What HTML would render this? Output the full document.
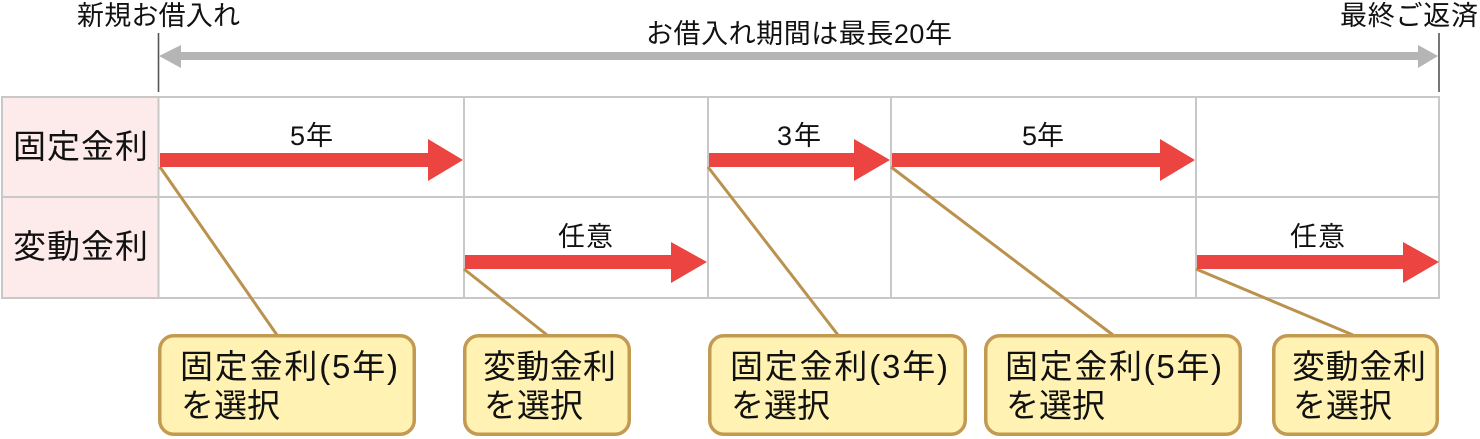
<!DOCTYPE html>
<html>
<head>
<meta charset="utf-8">
<style>
html,body{margin:0;padding:0;background:#fff;}
svg{display:block;}
text{font-family:"Liberation Sans","Noto Sans CJK JP",sans-serif;fill:#111;}
</style>
</head>
<body>
<svg width="1480" height="439" viewBox="0 0 1480 439" xmlns="http://www.w3.org/2000/svg">
  <!-- top labels -->
  <text x="77" y="25" font-size="27" textLength="163" lengthAdjust="spacing">新規お借入れ</text>
  <text x="1340" y="25" font-size="27" textLength="138" lengthAdjust="spacing">最終ご返済</text>
  <text x="646" y="43" font-size="27" textLength="306" lengthAdjust="spacing">お借入れ期間は最長20年</text>

  <!-- vertical markers -->
  <line x1="158.5" y1="33" x2="158.5" y2="92" stroke="#555" stroke-width="1.6"/>
  <line x1="1439" y1="33" x2="1439" y2="92" stroke="#555" stroke-width="1.6"/>

  <!-- gray double arrow -->
  <rect x="178" y="52" width="1243" height="8" fill="#B5B5B5"/>
  <polygon points="159,56 181,45 181,68" fill="#B5B5B5"/>
  <polygon points="1438,56 1418,45 1418,68" fill="#B5B5B5"/>

  <!-- table header fill -->
  <rect x="2" y="97" width="156" height="201" fill="#FDEBEC"/>

  <!-- table grid -->
  <g stroke="#C8C8C8" stroke-width="2" fill="none">
    <line x1="1" y1="97" x2="1439" y2="97"/>
    <line x1="1" y1="197" x2="1439" y2="197"/>
    <line x1="1" y1="298" x2="1440" y2="298"/>
    <line x1="2" y1="96" x2="2" y2="299"/>
    <line x1="158.5" y1="96" x2="158.5" y2="299"/>
    <line x1="464" y1="96" x2="464" y2="299"/>
    <line x1="708" y1="96" x2="708" y2="299"/>
    <line x1="891" y1="96" x2="891" y2="299"/>
    <line x1="1196" y1="96" x2="1196" y2="299"/>
    <line x1="1439" y1="96" x2="1439" y2="299"/>
  </g>

  <!-- header labels -->
  <text x="13" y="158" font-size="33" textLength="135" lengthAdjust="spacing">固定金利</text>
  <text x="13" y="258" font-size="33" textLength="135" lengthAdjust="spacing">変動金利</text>

  <!-- callout lines -->
  <g stroke="#BA924E" stroke-width="3" fill="none">
    <line x1="160" y1="167" x2="277" y2="335"/>
    <line x1="464" y1="269" x2="547" y2="335"/>
    <line x1="708" y1="167" x2="838" y2="335"/>
    <line x1="891" y1="167" x2="1113" y2="335"/>
    <line x1="1196" y1="269" x2="1353" y2="335"/>
  </g>

  <!-- red arrows -->
  <g fill="#EC4440">
    <polygon points="160,153 428,153 428,139 463,160 428,181 428,167 160,167"/>
    <polygon points="709,153 854,153 854,139 890,160 854,181 854,167 709,167"/>
    <polygon points="892,153 1160,153 1160,139 1195,160 1160,181 1160,167 892,167"/>
    <polygon points="465,255 671,255 671,242 707,262 671,283 671,269 465,269"/>
    <polygon points="1197,255 1403,255 1403,242 1439,262 1403,283 1403,269 1197,269"/>
  </g>

  <!-- arrow labels -->
  <text x="290" y="145" font-size="27" textLength="43" lengthAdjust="spacing">5年</text>
  <text x="777" y="145" font-size="27" textLength="44" lengthAdjust="spacing">3年</text>
  <text x="1022" y="145" font-size="27" textLength="42" lengthAdjust="spacing">5年</text>
  <text x="558" y="246" font-size="27" textLength="55" lengthAdjust="spacing">任意</text>
  <text x="1290" y="246" font-size="27" textLength="55" lengthAdjust="spacing">任意</text>

  <!-- callout boxes -->
  <g fill="#FFF2B2" stroke="#C39A52" stroke-width="3.5">
    <rect x="159.75" y="335.75" width="254.5" height="98.5" rx="14"/>
    <rect x="464.75" y="335.75" width="164.5" height="98.5" rx="14"/>
    <rect x="709.75" y="335.75" width="255.5" height="98.5" rx="14"/>
    <rect x="985.75" y="335.75" width="254.5" height="98.5" rx="14"/>
    <rect x="1273.75" y="335.75" width="163.5" height="98.5" rx="14"/>
  </g>

  <!-- box texts -->
  <text x="180" y="378" font-size="33" textLength="218" lengthAdjust="spacing">固定金利(5年)</text>
  <text x="181" y="417" font-size="33">を選択</text>

  <text x="483" y="378" font-size="33" textLength="133" lengthAdjust="spacing">変動金利</text>
  <text x="484" y="417" font-size="33">を選択</text>

  <text x="730" y="378" font-size="33" textLength="218" lengthAdjust="spacing">固定金利(3年)</text>
  <text x="731" y="417" font-size="33">を選択</text>

  <text x="1005" y="378" font-size="33" textLength="217" lengthAdjust="spacing">固定金利(5年)</text>
  <text x="1006" y="417" font-size="33">を選択</text>

  <text x="1292" y="378" font-size="33" textLength="134" lengthAdjust="spacing">変動金利</text>
  <text x="1293" y="417" font-size="33">を選択</text>
</svg>
</body>
</html>
